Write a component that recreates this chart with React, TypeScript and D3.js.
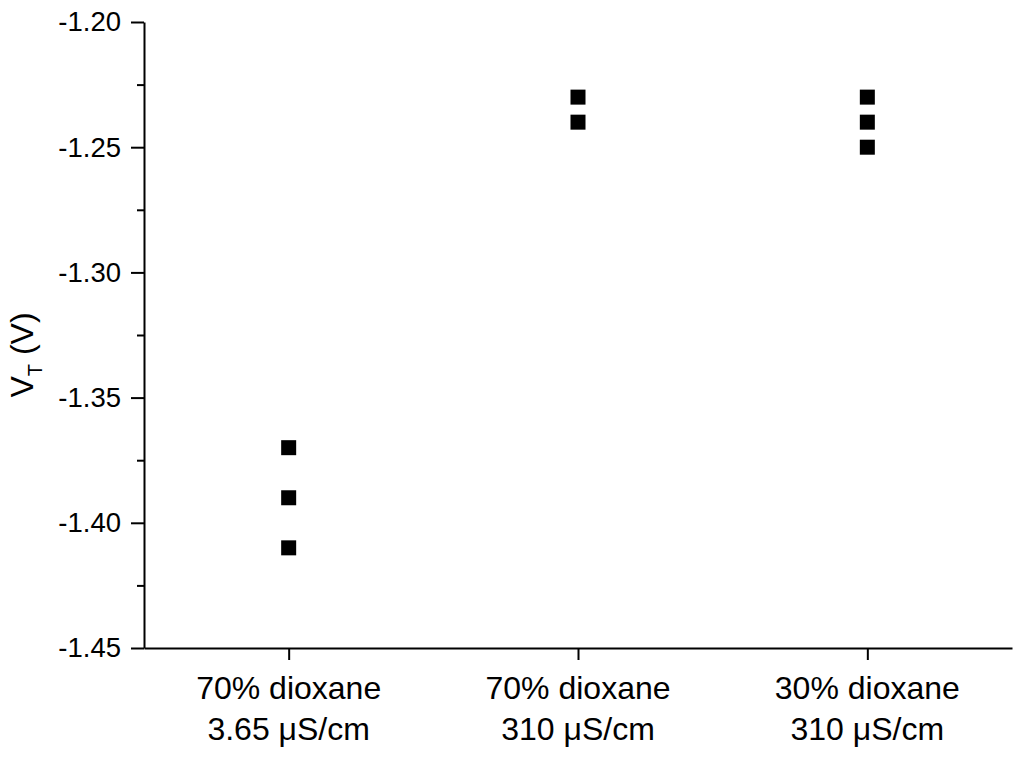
import { useEffect, useRef } from "react";
import * as d3 from "d3";

const CATEGORIES = [
  ["70% dioxane", "3.65 \u03bcS/cm"],
  ["70% dioxane", "310 \u03bcS/cm"],
  ["30% dioxane", "310 \u03bcS/cm"],
];

const VT_VALUES = [
  [-1.37, -1.39, -1.41],
  [-1.23, -1.24],
  [-1.23, -1.24, -1.25],
];

const Y_TICKS = [-1.45, -1.4, -1.35, -1.3, -1.25, -1.2];

export default function App() {
  const ref = useRef<HTMLDivElement>(null);

  useEffect(() => {
    if (!ref.current) return;
    const container = ref.current;
    d3.select(container).select("svg").remove();

    const width = 1024;
    const height = 757;
    const font = "Liberation Sans, Arial, sans-serif";

    const x = d3.scaleLinear().domain([0.5, 3.5]).range([144, 1012]);
    const y = d3.scaleLinear().domain([-1.45, -1.2]).range([648, 22]);

    const svg = d3.create("svg")
      .attr("width", width)
      .attr("height", height)
      .attr("viewBox", [0, 0, width, height])
      .style("display", "block")
      .style("font-family", font);

    // y axis
    const minor = d3.range(-1.45, -1.2, 0.05).map(v => v + 0.025);
    const yAxis = svg.append("g").attr("transform", `translate(${x(0.5)},0)`);
    yAxis.append("g")
      .call(d3.axisLeft(y).tickValues(minor).tickSize(7).tickFormat(() => ""))
      .call(g => g.select(".domain").remove())
      .call(g => g.selectAll(".tick line").attr("stroke-width", 2));
    yAxis.append("g")
      .call(d3.axisLeft(y).tickValues(Y_TICKS).tickSize(13).tickSizeOuter(0).tickPadding(10)
        .tickFormat(d3.format(".2f")))
      .call(g => g.select(".domain").attr("stroke-width", 2))
      .call(g => g.selectAll(".tick line").attr("stroke-width", 2))
      .call(g => g.selectAll(".tick text")
        .attr("font-size", 27.5)
        .attr("font-family", font)
        .attr("fill", "#000")
        .text(d => d3.format(".2f")(d as number).replace("\u2212", "-")));

    // x axis
    svg.append("g")
      .attr("transform", `translate(0,${y(-1.45)})`)
      .call(d3.axisBottom(x).tickValues([1, 2, 3]).tickSize(12).tickSizeOuter(0).tickFormat(() => ""))
      .call(g => g.select(".domain").attr("stroke-width", 2))
      .call(g => g.selectAll(".tick line").attr("stroke-width", 2));

    const labels = svg.append("g")
      .attr("font-size", 32)
      .attr("text-anchor", "middle")
      .attr("fill", "#000");
    CATEGORIES.forEach((lines, i) => {
      lines.forEach((line, j) => {
        labels.append("text")
          .attr("x", x(i + 1))
          .attr("y", 699 + j * 41)
          .text(line);
      });
    });

    // y title
    const title = svg.append("text")
      .attr("transform", `translate(33,355) rotate(-90)`)
      .attr("text-anchor", "middle")
      .attr("font-size", 32)
      .attr("fill", "#000");
    title.append("tspan").text("V");
    title.append("tspan").attr("font-size", 20).attr("dy", 9).text("T");
    title.append("tspan").attr("dy", -9).text(" (V)");

    // points
    const size = 15;
    const points = VT_VALUES.flatMap((vals, i) => vals.map(v => ({ cat: i + 1, v })));
    svg.append("g")
      .selectAll("rect")
      .data(points)
      .join("rect")
        .attr("x", d => x(d.cat) - size / 2)
        .attr("y", d => y(d.v) - size / 2)
        .attr("width", size)
        .attr("height", size)
        .attr("fill", "#000");

    container.append(svg.node()!);
  }, []);

  return <div ref={ref} style={{ margin: -8 }} />;
}
